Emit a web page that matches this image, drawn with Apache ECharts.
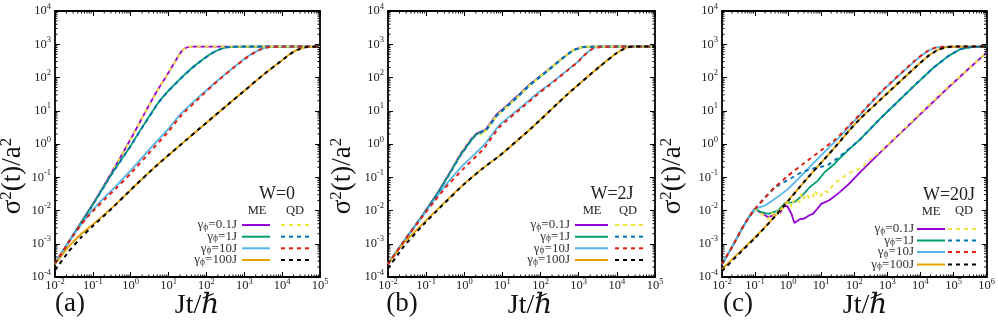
<!DOCTYPE html>
<html><head><meta charset="utf-8">
<script src="https://cdn.jsdelivr.net/npm/echarts@6/dist/echarts.min.js"></script>
<style>html,body{margin:0;padding:0;background:#fff}#c{width:998px;height:327px}</style>
</head><body><div id="c"></div>
<script>
// ---------- data (Jt/hbar , sigma^2/a^2) ----------
const panelLabels = ['(a)', '(b)', '(c)'];
const panelW = ['W=0', 'W=2J', 'W=20J'];
const gammaLabels = ['0.1J', '1J', '10J', '100J'];
const xMax = [1e5, 1e5, 1e6];
const yTickRange = [1e-4, 1e4];

// panel (a) W=0
const a_me_01 = [[0.01,2.6e-4],[0.0316,2.0e-3],[0.1,0.0158],[0.316,0.141],[1,1.41],[2.4,8.9],[5,40],[10,141],[20,525],[25,708],[31.6,813],[40,850],[1e5,850]];
const a_qd_01 = [[0.01,2.5e-4],[0.0316,2.0e-3],[0.1,0.0155],[0.316,0.138],[1,1.38],[2.4,8.8],[5,39],[10,140],[20,520],[25,705],[31.6,810],[40,850],[1e5,850]];
const a_me_1 = [[0.01,2.6e-4],[0.0316,2.0e-3],[0.1,0.0151],[0.316,0.126],[1,0.89],[2,3.16],[5.4,17.8],[10,40],[20,89],[40,186],[68,302],[126,500],[229,708],[417,832],[1000,850],[1e5,850]];
const a_qd_1 = [[0.01,2.5e-4],[0.0316,2.0e-3],[0.1,0.015],[0.316,0.125],[1,0.88],[2,3.1],[5.4,17.5],[10,39.5],[20,88],[40,185],[68,300],[126,498],[229,706],[417,832],[1000,850],[1e5,850]];
const a_me_10 = [[0.01,2.6e-4],[0.0316,1.9e-3],[0.063,5.6e-3],[0.1,0.0107],[0.2,0.0245],[0.4,0.053],[1,0.16],[3.16,0.7],[10,2.9],[20,7.6],[63,26],[200,83],[631,240],[1259,437],[2512,676],[4786,832],[1e4,850],[1e5,850]];
const a_qd_10 = [[0.01,2.6e-4],[0.0316,1.9e-3],[0.063,5.4e-3],[0.1,9.5e-3],[0.2,0.021],[0.4,0.045],[1,0.13],[3.16,0.56],[10,2.4],[20,6.6],[63,23.5],[200,79.4],[631,234],[1259,427],[2512,676],[4786,832],[1e4,850],[1e5,850]];
const a_me_100 = [[0.01,2.4e-4],[0.0224,7.9e-4],[0.05,2.0e-3],[0.1,3.8e-3],[0.316,0.012],[1,0.0417],[4.37,0.204],[20,0.912],[100,4.37],[316,13.2],[1000,39.8],[3162,120],[1e4,331],[15849,501],[25119,676],[44668,832],[1e5,850]];
const a_qd_100 = [[0.01,1.6e-4],[0.0224,5.6e-4],[0.05,1.6e-3],[0.1,3.4e-3],[0.316,0.0115],[1,0.0417],[4.37,0.204],[20,0.912],[100,4.37],[316,13.2],[1000,39.8],[3162,120],[1e4,331],[15849,501],[25119,676],[44668,832],[1e5,850]];

// panel (b) W=2J
const b_me_01 = [[0.01,2.5e-4],[0.0275,1.3e-3],[0.0741,6.3e-3],[0.204,0.0355],[0.447,0.158],[0.794,0.5],[1.41,1.26],[2,2],[2.82,2.4],[3.55,2.63],[5,4.47],[6.92,7.59],[12.6,13.8],[25.1,28.2],[52.5,63.1],[145,158],[389,398],[724,676],[1318,832],[3162,850],[1e5,850]];
const b_qd_01 = [[0.01,2.5e-4],[0.0275,1.3e-3],[0.0741,6.3e-3],[0.204,0.0355],[0.447,0.158],[0.794,0.5],[1.41,1.26],[2,2],[2.6,2.1],[3.0,1.75],[3.55,2.5],[5,4.2],[6.92,7.0],[12.6,12.6],[25.1,26],[52.5,60],[145,155],[389,398],[724,676],[1318,832],[3162,850],[1e5,850]];
const b_me_1 = [[0.01,2.5e-4],[0.0275,1.3e-3],[0.0741,6.2e-3],[0.204,0.034],[0.447,0.15],[0.794,0.46],[1.41,1.15],[2,1.9],[2.82,2.3],[3.55,2.5],[5,4.1],[6.92,7.0],[12.6,13],[25.1,26.5],[52.5,60],[145,152],[389,390],[724,670],[1318,830],[3162,850],[1e5,850]];
const b_qd_1 = [[0.01,2.5e-4],[0.0275,1.3e-3],[0.0741,6.2e-3],[0.204,0.034],[0.447,0.15],[0.794,0.46],[1.41,1.15],[2,1.9],[2.82,2.25],[3.55,2.45],[5,4.0],[6.92,6.9],[12.6,12.8],[25.1,26],[52.5,59],[145,150],[389,388],[724,668],[1318,830],[3162,850],[1e5,850]];
const b_me_10 = [[0.01,2.5e-4],[0.0275,1.3e-3],[0.0741,6.0e-3],[0.158,0.02],[0.316,0.0562],[1,0.251],[3.16,0.891],[8.51,3.8],[31.6,13.2],[100,39.8],[174,63.1],[479,158],[1000,316],[1318,447],[2399,759],[3981,832],[1e4,850],[1e5,850]];
const b_qd_10 = [[0.01,2.4e-4],[0.0275,1.3e-3],[0.0741,5.8e-3],[0.158,0.0178],[0.316,0.0479],[1,0.191],[3.16,0.708],[8.51,3.3],[31.6,12],[100,37],[174,60],[479,155],[1000,310],[1318,440],[2399,755],[3981,832],[1e4,850],[1e5,850]];
const b_me_100 = [[0.01,2.5e-4],[0.0251,1e-3],[0.0741,3.55e-3],[0.251,0.0141],[1,0.0631],[3.16,0.191],[8.51,0.447],[63.1,3.31],[479,29.5],[3548,214],[9772,537],[17783,794],[31623,850],[1e5,850]];
const b_qd_100 = [[0.01,1.8e-4],[0.0251,7.9e-4],[0.0741,3.2e-3],[0.251,0.0135],[1,0.0631],[3.16,0.191],[8.51,0.447],[63.1,3.31],[479,29.5],[3548,214],[9772,537],[17783,794],[31623,850],[1e5,850]];

// panel (c) W=20J
const c_me_01 = [[0.01,2.4e-4],[0.02,7.9e-4],[0.0398,2.8e-3],[0.063,6.0e-3],[0.095,0.0112],[0.141,8.9e-3],[0.251,6.3e-3],[0.398,7.6e-3],[0.562,8.3e-3],[0.759,0.0138],[0.955,0.0132],[1.26,7.9e-3],[1.55,4.2e-3],[2.19,5.4e-3],[3.09,5.75e-3],[4.37,7.2e-3],[5.62,7.9e-3],[7.76,0.0115],[10,0.0158],[17.4,0.0204],[31.6,0.0316],[69,0.063],[158,0.151],[692,0.631],[6918,5.62],[69183,50.1],[316228,200],[1e6,562]];
const c_qd_01 = [[0.01,2.4e-4],[0.02,7.9e-4],[0.0398,2.8e-3],[0.063,6.0e-3],[0.095,0.0112],[0.158,7.9e-3],[0.251,5.6e-3],[0.32,8.5e-3],[0.398,6.3e-3],[0.5,0.0112],[0.562,7.9e-3],[0.708,0.0126],[0.89,0.0158],[1.12,0.02],[1.26,0.0126],[1.41,0.0112],[1.58,0.0224],[1.78,0.0251],[2.24,0.0178],[2.51,0.0316],[2.82,0.0224],[3.16,0.02],[3.55,0.0316],[3.98,0.0355],[4.47,0.0224],[5.62,0.0251],[6.31,0.0398],[7.08,0.0355],[8.9,0.0251],[10,0.0282],[12.6,0.0398],[15.8,0.0355],[20,0.05],[28.2,0.0708],[39.8,0.0891],[63.1,0.126],[100,0.158],[158,0.19],[316,0.355],[692,0.66],[6918,5.9],[69183,52.5],[316228,200],[1e6,562]];
const c_me_1 = [[0.01,2.4e-4],[0.02,7.9e-4],[0.0398,2.8e-3],[0.063,6.0e-3],[0.1,0.0112],[0.158,8.9e-3],[0.251,7.9e-3],[0.501,0.01],[0.794,0.0166],[1.58,0.0178],[2.82,0.0302],[4.47,0.0501],[7.94,0.0794],[12.6,0.141],[25.1,0.251],[39.8,0.407],[69.2,0.692],[158,1.45],[692,6.61],[6918,60.3],[25119,200],[70795,447],[158489,708],[354813,832],[1e6,850]];
const c_qd_1 = [[0.01,2.4e-4],[0.02,7.9e-4],[0.0398,2.8e-3],[0.063,6.0e-3],[0.1,0.0112],[0.2,0.0251],[0.398,0.0501],[1,0.0832],[2.51,0.141],[5.01,0.178],[15.8,0.229],[31.6,0.38],[69.2,0.708],[158,1.45],[692,6.61],[6918,60.3],[25119,200],[70795,447],[158489,708],[354813,832],[1e6,850]];
const c_me_10 = [[0.01,2.5e-4],[0.02,7.9e-4],[0.0398,2.8e-3],[0.063,6.0e-3],[0.1,0.0112],[0.2,0.0141],[0.398,0.0224],[1,0.0447],[2.51,0.112],[6.31,0.288],[15.8,0.724],[39.8,1.82],[69.2,3.31],[158,7.94],[692,38],[6918,316],[15849,603],[25119,759],[39811,832],[1e5,850],[1e6,850]];
const c_qd_10 = [[0.01,2.5e-4],[0.02,7.9e-4],[0.0398,2.8e-3],[0.063,6.0e-3],[0.1,0.0112],[0.141,0.0166],[0.398,0.0501],[1,0.112],[2.82,0.251],[10,0.646],[28.2,1.45],[69.2,3.55],[158,8.32],[692,39.8],[6918,331],[15849,617],[25119,759],[39811,832],[1e5,850],[1e6,850]];
const c_me_100 = [[0.01,1.74e-4],[0.0316,5.2e-4],[0.1,1.58e-3],[0.316,5.25e-3],[1,0.02],[3.16,0.0759],[10,0.275],[31.6,1.0],[69.2,2.51],[158,6.03],[692,24],[6918,200],[15849,417],[31623,661],[63096,813],[125893,850],[1e6,850]];
const c_qd_100 = [[0.01,1.5e-4],[0.0316,4.8e-4],[0.1,1.5e-3],[0.316,5.1e-3],[1,0.0195],[3.16,0.0759],[10,0.275],[31.6,1.0],[69.2,2.51],[158,6.03],[692,24],[6918,200],[15849,417],[31623,661],[63096,813],[125893,850],[1e6,850]];

const panelSeries = [
  [a_me_01, a_qd_01, a_me_1, a_qd_1, a_me_10, a_qd_10, a_me_100, a_qd_100],
  [b_me_01, b_qd_01, b_me_1, b_qd_1, b_me_10, b_qd_10, b_me_100, b_qd_100],
  [c_me_01, c_qd_01, c_me_1, c_qd_1, c_me_10, c_qd_10, c_me_100, c_qd_100]
];

// ---------- styles & layout ----------
const meColors = ['#9400d3', '#009e73', '#56b4e9', '#e69f00'];
const qdColors = ['#f0e442', '#0072b2', '#e51e10', '#000000'];
const F = "'Liberation Serif','DejaVu Serif',serif";
const grids = [
  {left: 55, top: 11, width: 265, height: 266},
  {left: 388, top: 11, width: 267, height: 266},
  {left: 722, top: 11, width: 266, height: 266}
];
const legendLayout = [
  {tx: 277, ty: 194, me: [257, 211], qd: [295, 211], labelX: 237, rows: [225, 236.7, 248.3, 260], solid: [242, 270], dash: [281, 310]},
  {tx: 612, ty: 194, me: [592, 211], qd: [628, 211], labelX: 570, rows: [225, 236.7, 248.3, 260], solid: [575, 608], dash: [615, 643]},
  {tx: 949, ty: 195, me: [931, 212], qd: [964, 211], labelX: 914, rows: [229, 240.5, 252, 264.5], solid: [917, 945], dash: [948, 977]}
];
const titleLayout = [
  {yx: 13, yy: 176, xx: 197, xy: 306, px: 70, py: 304},
  {yx: 343, yy: 176, xx: 530, xy: 306, px: 402, py: 304},
  {yx: 673, yy: 176, xx: 865, xy: 306, px: 738, py: 304}
];

function expLabel(v) {
  const e = Math.round(Math.log10(v));
  return '{b|10}{s|' + (e < 0 ? '-' + (-e) : '' + e) + '}';
}
const labelRich = {
  b: {fontSize: 12.5, lineHeight: 18, fontFamily: F, color: '#222'},
  s: {fontSize: 8.5, lineHeight: 9, verticalAlign: 'top', fontFamily: F, color: '#222'}
};

const xAxes = [], yAxes = [], series = [], graphics = [];
grids.forEach((g, p) => {
  const common = {
    type: 'log', logBase: 10, gridIndex: p,
    axisLine: {show: true, lineStyle: {color: '#000', width: 1.8}},
    axisTick: {show: true, inside: true, length: 5, lineStyle: {color: '#000', width: 1}},
    splitLine: {show: false}, minorTick: {show: false}
  };
  xAxes.push(Object.assign({}, common, {
    position: 'bottom', min: 0.01, max: xMax[p],
    axisLabel: {show: true, formatter: expLabel, rich: labelRich, margin: 0, showMinLabel: true, showMaxLabel: true, hideOverlap: false}
  }));
  xAxes.push(Object.assign({}, common, {position: 'top', min: 0.01, max: xMax[p], axisLabel: {show: false}}));
  yAxes.push(Object.assign({}, common, {
    position: 'left', min: yTickRange[0], max: yTickRange[1],
    axisLabel: {show: true, formatter: expLabel, rich: labelRich, margin: 4, align: 'right', showMinLabel: true, showMaxLabel: true, hideOverlap: false}
  }));
  yAxes.push(Object.assign({}, common, {position: 'right', min: yTickRange[0], max: yTickRange[1], axisLabel: {show: false}}));

  // minor ticks (2..9 x 10^n) on all four sides
  const minor = [];
  const x0 = -2, x1 = Math.round(Math.log10(xMax[p]));
  for (let d = x0; d < x1; d++) for (let m = 2; m <= 9; m++) minor.push([m * Math.pow(10, d), yTickRange[0], 0]);
  for (let d = -4; d < 4; d++) for (let m = 2; m <= 9; m++) minor.push([0.01, m * Math.pow(10, d), 1]);
  const xm = xMax[p];
  series.push({
    type: 'custom', xAxisIndex: 2 * p, yAxisIndex: 2 * p, silent: true, clip: false, z: 5,
    encode: {x: 0, y: 1}, data: minor,
    renderItem: function (params, api) {
      const kind = api.value(2);
      const L = 2.5, st = {stroke: '#000', lineWidth: 1};
      if (kind === 0) {
        const v = api.value(0);
        const b = api.coord([v, yTickRange[0]]), t = api.coord([v, yTickRange[1]]);
        return {type: 'group', children: [
          {type: 'line', shape: {x1: b[0], y1: b[1], x2: b[0], y2: b[1] - L}, style: st},
          {type: 'line', shape: {x1: t[0], y1: t[1], x2: t[0], y2: t[1] + L}, style: st}]};
      } else {
        const v = api.value(1);
        const l = api.coord([0.01, v]), r = api.coord([xm, v]);
        return {type: 'group', children: [
          {type: 'line', shape: {x1: l[0], y1: l[1], x2: l[0] + L, y2: l[1]}, style: st},
          {type: 'line', shape: {x1: r[0], y1: r[1], x2: r[0] - L, y2: r[1]}, style: st}]};
      }
    }
  });

  // curves
  panelSeries[p].forEach((d, k) => {
    const gi = Math.floor(k / 2), isQD = k % 2 === 1;
    const jagged = (p === 2 && gi <= 1) || (p === 1 && gi <= 1);
    series.push({
      type: 'line', name: (isQD ? 'QD ' : 'ME ') + gammaLabels[gi],
      xAxisIndex: 2 * p, yAxisIndex: 2 * p, data: d,
      showSymbol: false, symbol: 'none', z: isQD ? 3 : 2,
      smooth: jagged ? false : 0.15,
      lineStyle: isQD ? {color: qdColors[gi], width: 2, type: [4, 4]} : {color: meColors[gi], width: 1.8},
      emphasis: {disabled: true}
    });
  });

  // legend block
  const L = legendLayout[p];
  const txt = (x, y, text, size, align) => ({
    type: 'text', x: x, y: y, silent: true,
    style: {text: text, fontFamily: F, fontSize: size, fill: '#222', align: align, verticalAlign: 'middle'}
  });
  graphics.push(txt(L.tx, L.ty, panelW[p], 18, 'center'));
  graphics.push(txt(L.me[0], L.me[1], 'ME', 12.5, 'center'));
  graphics.push(txt(L.qd[0], L.qd[1], 'QD', 12.5, 'center'));
  gammaLabels.forEach((gl, i) => {
    const y = L.rows[i];
    graphics.push({
      type: 'text', x: L.labelX, y: y, silent: true,
      style: {
        text: '{g|γ}{p|ϕ}{g|=' + gl + '}', align: 'right', verticalAlign: 'middle',
        rich: {
          g: {fontFamily: F, fontSize: 13, lineHeight: 14, fill: '#333'},
          p: {fontFamily: F, fontSize: 9.5, lineHeight: 7, verticalAlign: 'bottom', fill: '#333'}
        }
      }
    });
    graphics.push({type: 'line', silent: true, shape: {x1: L.solid[0], y1: y, x2: L.solid[1], y2: y},
      style: {stroke: meColors[i], lineWidth: 2}});
    graphics.push({type: 'line', silent: true, shape: {x1: L.dash[0], y1: y, x2: L.dash[1], y2: y},
      style: {stroke: qdColors[i], lineWidth: 2, lineDash: [4, 4]}});
  });

  // axis titles and panel label
  const T = titleLayout[p];
  graphics.push({
    type: 'text', x: T.yx, y: T.yy, rotation: Math.PI / 2, silent: true,
    style: {
      text: '{m|σ}{s|2}{m|(t)/a}{s|2}', align: 'center', verticalAlign: 'middle',
      rich: {
        m: {fontFamily: F, fontSize: 27, lineHeight: 30, fill: '#111'},
        s: {fontFamily: F, fontSize: 17, lineHeight: 17, verticalAlign: 'top', fill: '#111'}
      }
    }
  });
  graphics.push({
    type: 'text', x: T.xx, y: T.xy, silent: true,
    style: {text: 'Jt/ℏ', fontFamily: F, fontSize: 28, fill: '#111', align: 'center', verticalAlign: 'middle'}
  });
  graphics.push({
    type: 'text', x: T.px, y: T.py, silent: true,
    style: {text: panelLabels[p], fontFamily: F, fontSize: 27, fill: '#111', align: 'center', verticalAlign: 'middle'}
  });
});

const chart = echarts.init(document.getElementById('c'), null, {renderer: 'canvas'});
chart.setOption({
  animation: false,
  backgroundColor: '#fff',
  grid: grids.map(g => Object.assign({containLabel: false}, g)),
  xAxis: xAxes,
  yAxis: yAxes,
  series: series,
  graphic: {elements: graphics}
});
</script>
</body></html>
